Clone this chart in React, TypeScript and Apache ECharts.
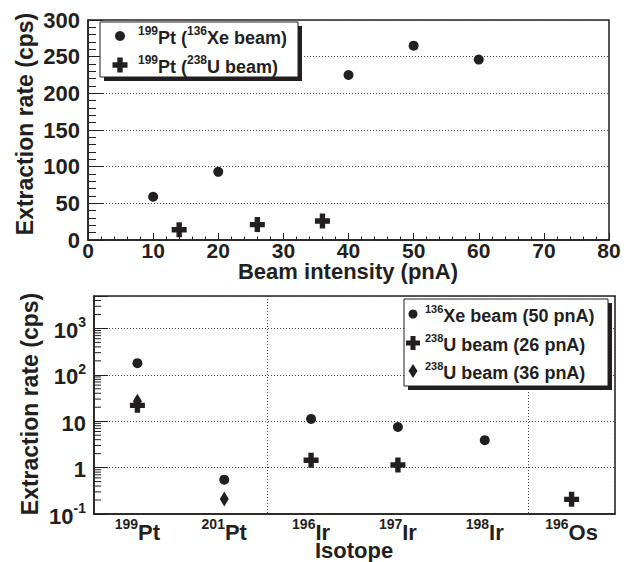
import React, { useEffect, useRef } from "react";
import * as echarts from "echarts";

// ---------- data ----------
const BEAM_XE = [10, 20, 40, 50, 60];
const RATE_XE = [59, 93, 225, 265, 246];
const BEAM_U = [14, 26, 36];
const RATE_U = [14, 21, 26];

const ISOTOPES = ["199Pt", "201Pt", "196Ir", "197Ir", "198Ir", "196Os"];
const XE_50 = [178, 0.55, 11.2, 7.5, 3.9, null];
const U_26 = [22, null, 1.44, 1.14, null, 0.207];
const U_36 = [27, 0.21, null, null, null, null];

const LOG_DECADES = [0.1, 1, 10, 100, 1000];
const LOG_MULTS = [2, 3, 4, 5, 6, 7, 8, 9];

const INK = "#231f20";
const FONT = "Liberation Sans";
const PLUS = "path://M3.2,0H6.8V3.2H10V6.8H6.8V10H3.2V6.8H0V3.2H3.2Z";

const plusPoints = (cx: number, cy: number, s: number) => {
  const h = s / 2;
  const t = s * 0.18;
  return [
    [cx - t, cy - h], [cx + t, cy - h], [cx + t, cy - t], [cx + h, cy - t],
    [cx + h, cy + t], [cx + t, cy + t], [cx + t, cy + h], [cx - t, cy + h],
    [cx - t, cy + t], [cx - h, cy + t], [cx - h, cy - t], [cx - t, cy - t],
  ];
};

const legendRich = (main: number, sup: number) => ({
  b: { fontSize: main, fontWeight: "bold", fontFamily: FONT, fill: INK, color: INK, lineHeight: 22, verticalAlign: "bottom" },
  s: { fontSize: sup, fontWeight: "bold", fontFamily: FONT, fill: INK, color: INK, lineHeight: 12, verticalAlign: "top" },
});

export default function App() {
  const ref = useRef<HTMLDivElement>(null);
  useEffect(() => {
    if (!ref.current) return;
    const chart = echarts.init(ref.current, null, { renderer: "svg" });

    const labelBase = { fontFamily: FONT, fontWeight: "bold", fontSize: 22, color: INK };
    const dotted = { type: [1, 2], color: "#444", width: 1 };
    const richAxis = {
      b: { fontFamily: FONT, fontWeight: "bold", fontSize: 22, color: INK, lineHeight: 26, verticalAlign: "bottom" },
      s: { fontFamily: FONT, fontWeight: "bold", fontSize: 14, color: INK, lineHeight: 12, verticalAlign: "top" },
    };

    const minorTicks: number[][] = [];
    LOG_DECADES.forEach((d) => LOG_MULTS.forEach((m) => {
      const v = d * m;
      if (v < 5000) minorTicks.push([0, v]);
    }));

    const gText = (text: string, x: number, y: number, rot = 0, size = 23) => ({
      type: "text",
      x, y, rotation: rot,
      style: { text, fontFamily: FONT, fontWeight: "bold", fontSize: size, fill: INK, align: "center", verticalAlign: "middle" },
    });

    const legendBox = (x: number, y: number, w: number, h: number) => [
      { type: "rect", shape: { x: x + 4, y: y + 4, width: w, height: h }, style: { fill: INK }, z: 100 },
      { type: "rect", shape: { x, y, width: w, height: h }, style: { fill: "#fff", stroke: INK, lineWidth: 1 }, z: 101 },
    ];
    const legendText = (text: string, x: number, y: number, main: number, sup: number) => ({
      type: "text", x, y, z: 102,
      style: { text, rich: legendRich(main, sup), align: "left", verticalAlign: "middle", fill: INK },
    });

    const mark = { color: INK, opacity: 1 };

    const option: any = {
      animation: false,
      backgroundColor: "#fff",
      grid: [
        { left: 88, top: 20, width: 521, height: 220, show: true, borderColor: INK, borderWidth: 1.5, backgroundColor: "transparent" },
        { left: 94, top: 296, width: 521, height: 218, show: true, borderColor: INK, borderWidth: 1.5, backgroundColor: "transparent" },
      ],
      xAxis: [
        {
          gridIndex: 0, type: "value", min: 0, max: 80, interval: 10,
          axisLine: { show: true, lineStyle: { color: INK, width: 1.5 } },
          axisTick: { show: true, inside: true, length: 7, lineStyle: { color: INK } },
          minorTick: { show: true, splitNumber: 5, length: 3.5, lineStyle: { color: INK } },
          splitLine: { show: false },
          axisLabel: { ...labelBase, fontSize: 21, margin: 0 },
        },
        {
          gridIndex: 1, type: "category", data: ISOTOPES, boundaryGap: true,
          axisLine: { show: true, lineStyle: { color: INK, width: 1.5 } },
          axisTick: { show: false },
          splitLine: { show: true, interval: (i: number) => i === 2 || i === 5, lineStyle: dotted },
          axisLabel: {
            interval: 0, margin: 3,
            formatter: (v: string) => {
              const m = v.match(/^(\d+)(.*)$/);
              return m ? `{s|${m[1]}}{b|${m[2]}}` : v;
            },
            rich: richAxis,
          },
        },
      ],
      yAxis: [
        {
          gridIndex: 0, type: "value", min: 0, max: 300, interval: 50,
          axisLine: { show: true, lineStyle: { color: INK, width: 1.5 } },
          axisTick: { show: true, inside: true, length: 15, lineStyle: { color: INK } },
          minorTick: { show: true, splitNumber: 5, length: 8, lineStyle: { color: INK } },
          splitLine: { show: true, lineStyle: dotted },
          axisLabel: { ...labelBase, margin: 8 },
        },
        {
          gridIndex: 1, type: "log", logBase: 10, min: 0.1, max: 5000,
          axisLine: { show: true, lineStyle: { color: INK, width: 1.5 } },
          axisTick: { show: true, inside: true, length: 14, lineStyle: { color: INK } },
          splitLine: { show: true, lineStyle: dotted },
          axisLabel: {
            margin: 8,
            formatter: (v: number) => {
              const e = Math.log10(v);
              const r = Math.round(e);
              if (Math.abs(e - r) > 1e-6) return "";
              if (r === 0) return "{b|1}";
              if (r === 1) return "{b|10}";
              return `{b|10}{s|${r}}`;
            },
            rich: richAxis,
          },
        },
      ],
      series: [
        {
          name: "Xe", type: "scatter", xAxisIndex: 0, yAxisIndex: 0,
          data: BEAM_XE.map((x, i) => [x, RATE_XE[i]]),
          symbol: "circle", symbolSize: 10, itemStyle: mark,
        },
        {
          name: "U", type: "scatter", xAxisIndex: 0, yAxisIndex: 0,
          data: BEAM_U.map((x, i) => [x, RATE_U[i]]),
          symbol: PLUS, symbolSize: 15, itemStyle: mark,
        },
        {
          name: "Xe50", type: "scatter", xAxisIndex: 1, yAxisIndex: 1,
          data: XE_50.map((v, i) => (v == null ? [i, "-"] : [i, v])),
          symbol: "circle", symbolSize: 10, itemStyle: mark,
        },
        {
          name: "U26", type: "scatter", xAxisIndex: 1, yAxisIndex: 1,
          data: U_26.map((v, i) => (v == null ? [i, "-"] : [i, v])),
          symbol: PLUS, symbolSize: 15, itemStyle: mark,
        },
        {
          name: "U36", type: "scatter", xAxisIndex: 1, yAxisIndex: 1,
          data: U_36.map((v, i) => (v == null ? [i, "-"] : [i, v])),
          symbol: "diamond", symbolSize: [9, 15], itemStyle: mark,
        },
        {
          name: "minor", type: "custom", xAxisIndex: 1, yAxisIndex: 1, silent: true,
          data: minorTicks, encode: { x: 0, y: 1 },
          renderItem: (params: any, api: any) => {
            const y = api.coord([0, api.value(1)])[1];
            const x0 = params.coordSys.x;
            return { type: "line", shape: { x1: x0, y1: y, x2: x0 + 7, y2: y }, style: { stroke: INK, lineWidth: 1 } };
          },
        },
      ],
      graphic: [
        gText("Extraction rate (cps)", 25, 124, Math.PI / 2),
        gText("Beam intensity (pnA)", 348, 271, 0, 22),
        gText("Extraction rate (cps)", 30, 404, Math.PI / 2),
        gText("Isotope", 354, 550, 0, 22),
        ...legendBox(100, 22, 198, 55),
        { type: "circle", shape: { cx: 120, cy: 36, r: 5 }, style: { fill: INK }, z: 102 },
        { type: "polygon", shape: { points: plusPoints(120, 65, 15) }, style: { fill: INK }, z: 102 },
        legendText("{s|199}{b|Pt (}{s|136}{b|Xe beam)}", 138, 36, 18, 12),
        legendText("{s|199}{b|Pt (}{s|238}{b|U beam)}", 138, 65, 18, 12),
        ...legendBox(404, 299, 204, 87),
        { type: "circle", shape: { cx: 413, cy: 314, r: 4.5 }, style: { fill: INK }, z: 102 },
        { type: "polygon", shape: { points: plusPoints(413, 343, 14) }, style: { fill: INK }, z: 102 },
        { type: "polygon", shape: { points: [[413, 364], [417.5, 371], [413, 378], [408.5, 371]] }, style: { fill: INK }, z: 102 },
        legendText("{s|136}{b|Xe beam (50 pnA)}", 425, 314, 18, 11),
        legendText("{s|238}{b|U beam (26 pnA)}", 425, 343, 18, 11),
        legendText("{s|238}{b|U beam (36 pnA)}", 425, 371, 18, 11),
      ],
    };
    chart.setOption(option);
    return () => chart.dispose();
  }, []);
  return (
    <div
      ref={ref}
      style={{ position: "absolute", left: 0, top: 0, width: 633, height: 562, background: "#fff" }}
    />
  );
}
